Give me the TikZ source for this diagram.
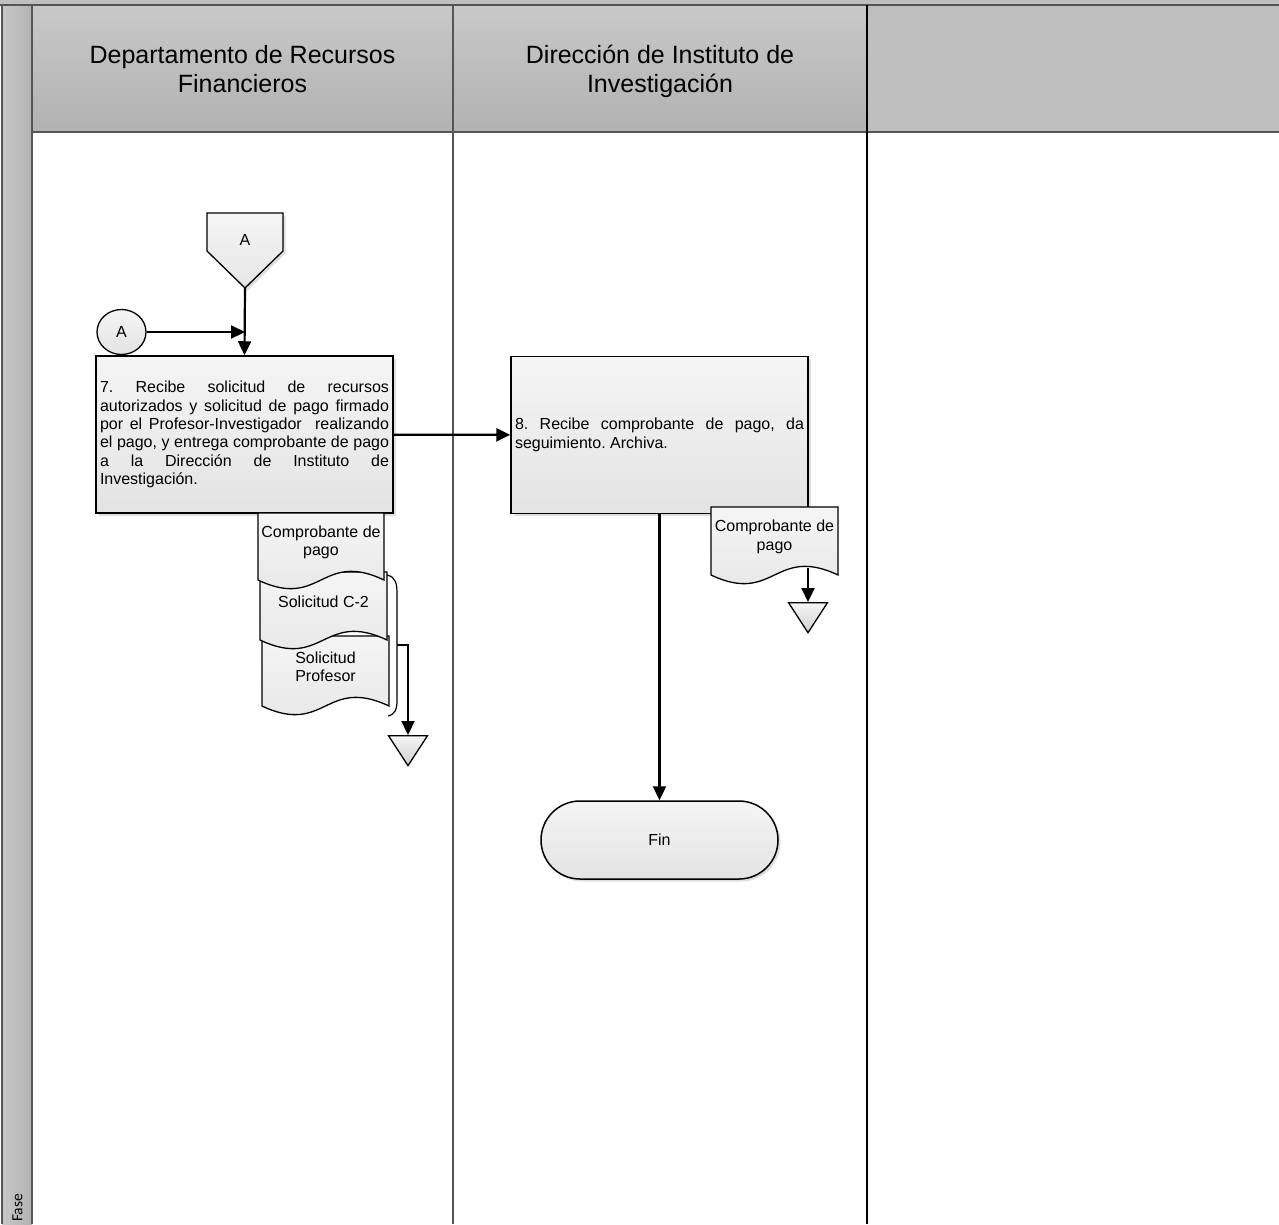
\documentclass[tikz,border=0pt]{standalone}
\usepackage{fontspec}
\setmainfont{Liberation Sans}
\newfontfamily\fasefont{Carlito}
\usepackage{tikz}
\usetikzlibrary{arrows.meta,positioning,shapes.geometric,shadows}
\definecolor{hdrtop}{RGB}{200,200,200}
\definecolor{hdrbot}{RGB}{178,178,178}
\definecolor{hdrflat}{RGB}{191,191,191}
\definecolor{lanegray}{RGB}{85,85,85}
\newcommand{\bodyfont}{\fontsize{16}{18.4}\selectfont\frenchspacing}
% document symbol: name, left, top, width, height, text
\newcommand{\docu}[6]{%
  \draw[docshape] (#2,#3) -- (#2+#4,#3) -- (#2+#4,#3+#5)
    .. controls (#2+#4/2,#3+#5-30) and (#2+#4/2,#3+#5+30) .. (#2,#3+#5) -- cycle;
  \node[doctext] (#1) at (#2+#4/2,#3+#5*0.44) {#6};
}

\begin{document}
\begin{tikzpicture}[x=1pt,y=-1pt,
    flow/.style={line width=2.2pt,-{Triangle[length=14pt,width=13pt]}},
    lane/.style={draw=lanegray,line width=2pt},
    hdrtxt/.style={font=\fontsize{25}{29}\selectfont,align=center},
    shadowed/.style={drop shadow={shadow xshift=2.5pt,shadow yshift=-2.5pt,
                     fill=black!25,opacity=.5}},
    proc/.style={draw,line width=1.5pt,top color=black!4,bottom color=black!11,
                 shadowed,minimum width=297,minimum height=157,text width=289,
                 inner sep=4,align=justify,font=\bodyfont},
    docshape/.style={draw,line width=1.3pt,top color=black!4,bottom color=black!10},
    doctext/.style={align=center,font=\bodyfont,inner sep=0},
    term/.style={draw,line width=1.5pt,rounded corners=39pt,top color=black!4,
                 bottom color=black!11,shadowed,minimum width=237,
                 minimum height=78,font=\bodyfont},
    conn/.style={ellipse,draw,line width=1.3pt,top color=black!4,bottom color=black!11,
                 minimum width=49,minimum height=45,inner sep=0,font=\bodyfont},
    sink/.style={isosceles triangle,isosceles triangle stretches,
                 shape border rotate=-90,minimum width=39,minimum height=30,
                 inner sep=0,draw,line width=1.3pt,top color=black!4,
                 bottom color=black!18}]
  \useasboundingbox (0,0) rectangle (1279,1224);

  % lanes
  \fill[hdrflat] (0,0) rectangle (1279,5);
  \fill[left color=hdrtop,right color=hdrbot] (2,5) rectangle (32,1224);
  \shade[top color=hdrtop,bottom color=hdrbot] (32,5) rectangle (867,132);
  \fill[hdrflat] (867,5) rectangle (1279,132);
  \draw[lane] (0,5) -- (1279,5);
  \draw[lane] (32,132) -- (1279,132);
  \draw[lane] (2,5) -- (2,1224);
  \draw[lane] (32,5) -- (32,1224);
  \draw[lane] (453,5) -- (453,1224);
  \draw[line width=2pt] (867,5) -- (867,1224);
  \node[hdrtxt] (lane1) at (242.5,69) {Departamento de Recursos\\Financieros};
  \node[hdrtxt] (lane2) at (660,71) {Dirección de Instituto de\\Investigación};
  \node[rotate=90,font=\fasefont\fontsize{15.5}{18}\selectfont] (fase) at (17.5,1208) {Fase};

  % off-page connector and on-page connector
  \draw[docshape,shadowed] (207,213) -- (283,213) -- (283,251) -- (245,288)
    -- (207,251) -- cycle;
  \node[font=\bodyfont] (offA) at (245,240) {A};
  \coordinate (offAtip) at (245,288);
  \node[conn] (conA) at (121.5,332) {A};

  % activities
  \node[proc] (act7) at (244.5,434.5)
    {7. Recibe solicitud de recursos\linebreak
     autorizados y solicitud de pago firmado\linebreak
     por el Profesor-Investigador\ \ realizando\linebreak
     el pago, y entrega comprobante de pago\linebreak
     a la Dirección de Instituto de\linebreak
     Investigación.};
  \node[proc] (act8) at (659.5,435)
    {8. Recibe comprobante de pago, da\linebreak
     seguimiento. Archiva.};
  \node[term] (fin) at (659.5,840) {Fin};

  % documents
  \docu{solprof}{262}{636}{127}{70}{Solicitud\\Profesor}
  \docu{solc2}{260}{572}{127}{68}{Solicitud C-2}
  \docu{comp1}{258}{513}{126}{67}{Comprobante de\\pago}
  \docu{comp2}{711}{507}{127}{68}{Comprobante de\\pago}
  \draw[line width=1.2pt] (387,575) .. controls (396,577) and (397,584) .. (397,594)
    -- (397,700) .. controls (397,710) and (395,714) .. (388,716);
  \coordinate (brk) at (397,645);
  \coordinate (comp2out) at (808,568);

  % archive
  \node[sink,anchor=north] (arch1) at (408,735) {};
  \node[sink,anchor=north] (arch2) at (808,602) {};

  % connectors
  \draw[flow] (offAtip) -- (act7.north);
  \draw[flow] (conA) -- (conA -| offAtip);
  \draw[flow] (act7) -- (act8);
  \draw[flow] (act8) -- (fin);
  \draw[flow] (brk) -| (arch1.north);
  \draw[flow] (comp2out) -- (arch2.north);
\end{tikzpicture}
\end{document}
